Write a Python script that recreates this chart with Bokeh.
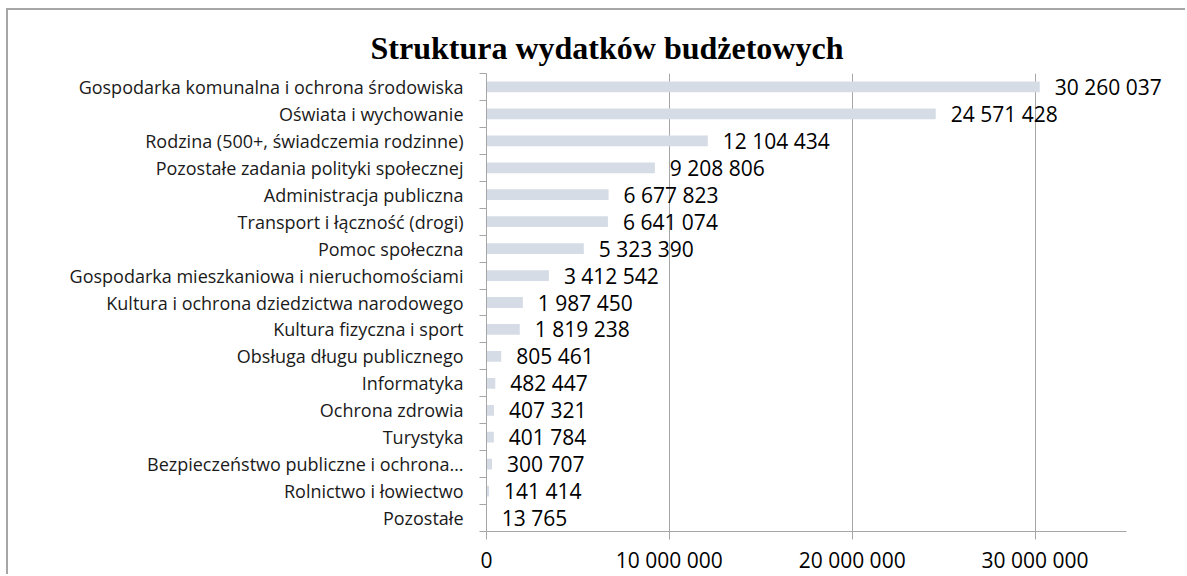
from bokeh.plotting import figure
from bokeh.models import Range1d, FixedTicker, ColumnDataSource, LabelSet
from bokeh.core.properties import value
from bokeh.embed import file_html
from bokeh.resources import INLINE

categories = [
    "Gospodarka komunalna i ochrona środowiska",
    "Oświata i wychowanie",
    "Rodzina (500+, świadczemia rodzinne)",
    "Pozostałe zadania polityki społecznej",
    "Administracja publiczna",
    "Transport i łączność (drogi)",
    "Pomoc społeczna",
    "Gospodarka mieszkaniowa i nieruchomościami",
    "Kultura i ochrona dziedzictwa narodowego",
    "Kultura fizyczna i sport",
    "Obsługa długu publicznego",
    "Informatyka",
    "Ochrona zdrowia",
    "Turystyka",
    "Bezpieczeństwo publiczne i ochrona…",
    "Rolnictwo i łowiectwo",
    "Pozostałe",
]
values = [30260037, 24571428, 12104434, 9208806, 6677823, 6641074, 5323390,
          3412542, 1987450, 1819238, 805461, 482447, 407321, 401784, 300707,
          141414, 13765]
x_tick_values = [0, 10000000, 20000000, 30000000]
x_tick_labels = ["0", "10 000 000", "20 000 000", "30 000 000"]
title_text = "Struktura wydatków budżetowych"
x_axis_max = 35000000

n = len(categories)
ypos = [n - i - 0.5 for i in range(n)]
labels = [f"{v:,}".replace(",", " ") for v in values]
src = ColumnDataSource(dict(y=ypos, v=values, lab=labels))

GRAY = "#A6A6A6"
p = figure(width=1179, height=566, output_backend="svg", toolbar_location=None,
           x_range=Range1d(0, 37520000), y_range=Range1d(0, n),
           min_border_left=478, min_border_right=15, min_border_top=63,
           min_border_bottom=40,
           styles={"border-top": "2px solid #A6A6A6", "border-left": "2px solid #A6A6A6",
                   "margin-left": "6px", "margin-top": "8px"})
p.outline_line_color = None
p.title.text = title_text
p.title.text_font = "Liberation Serif"
p.title.text_font_style = "bold"
p.title.text_font_size = "32px"
p.title.align = "left"
p.title.offset = -116
p.title.standoff = 15
p.title.text_color = "black"

p.hbar(y="y", right="v", left=0, height=0.4, source=src,
       fill_color="#D6DCE5", line_color=None)
p.add_layout(LabelSet(x="v", y="y", text="lab", source=src, x_offset=15,
                      text_baseline="middle", text_align="left",
                      text_font=value("Open Sans"), text_font_size=value("21px"),
                      text_color="black"))

xa = p.xaxis[0]
xa.ticker = FixedTicker(ticks=x_tick_values)
xa.bounds = (0, x_axis_max)
xa.major_label_overrides = dict(zip(x_tick_values, x_tick_labels))
xa.major_label_text_font = "Open Sans"
xa.major_label_text_font_size = "21px"
xa.major_label_text_color = "black"
xa.major_label_standoff = 6
xa.major_tick_out = 8
xa.major_tick_in = 0
xa.minor_tick_line_color = None
xa.axis_line_color = GRAY
xa.major_tick_line_color = GRAY

ya = p.yaxis[0]
ya.ticker = FixedTicker(ticks=ypos, minor_ticks=list(range(n + 1)))
ya.major_label_overrides = dict(zip(ypos, categories))
ya.major_label_text_font = "Open Sans"
ya.major_label_text_font_size = "18px"
ya.major_label_text_color = "#1a1a1a"
ya.major_label_standoff = 16
ya.major_tick_line_color = None
ya.major_tick_out = 0
ya.minor_tick_out = 7
ya.minor_tick_in = 0
ya.minor_tick_line_color = GRAY
ya.axis_line_color = GRAY

p.xgrid.ticker = FixedTicker(ticks=x_tick_values)
p.xgrid.grid_line_color = GRAY
p.ygrid.grid_line_color = None

open("out.html", "w").write(file_html(p, INLINE))
